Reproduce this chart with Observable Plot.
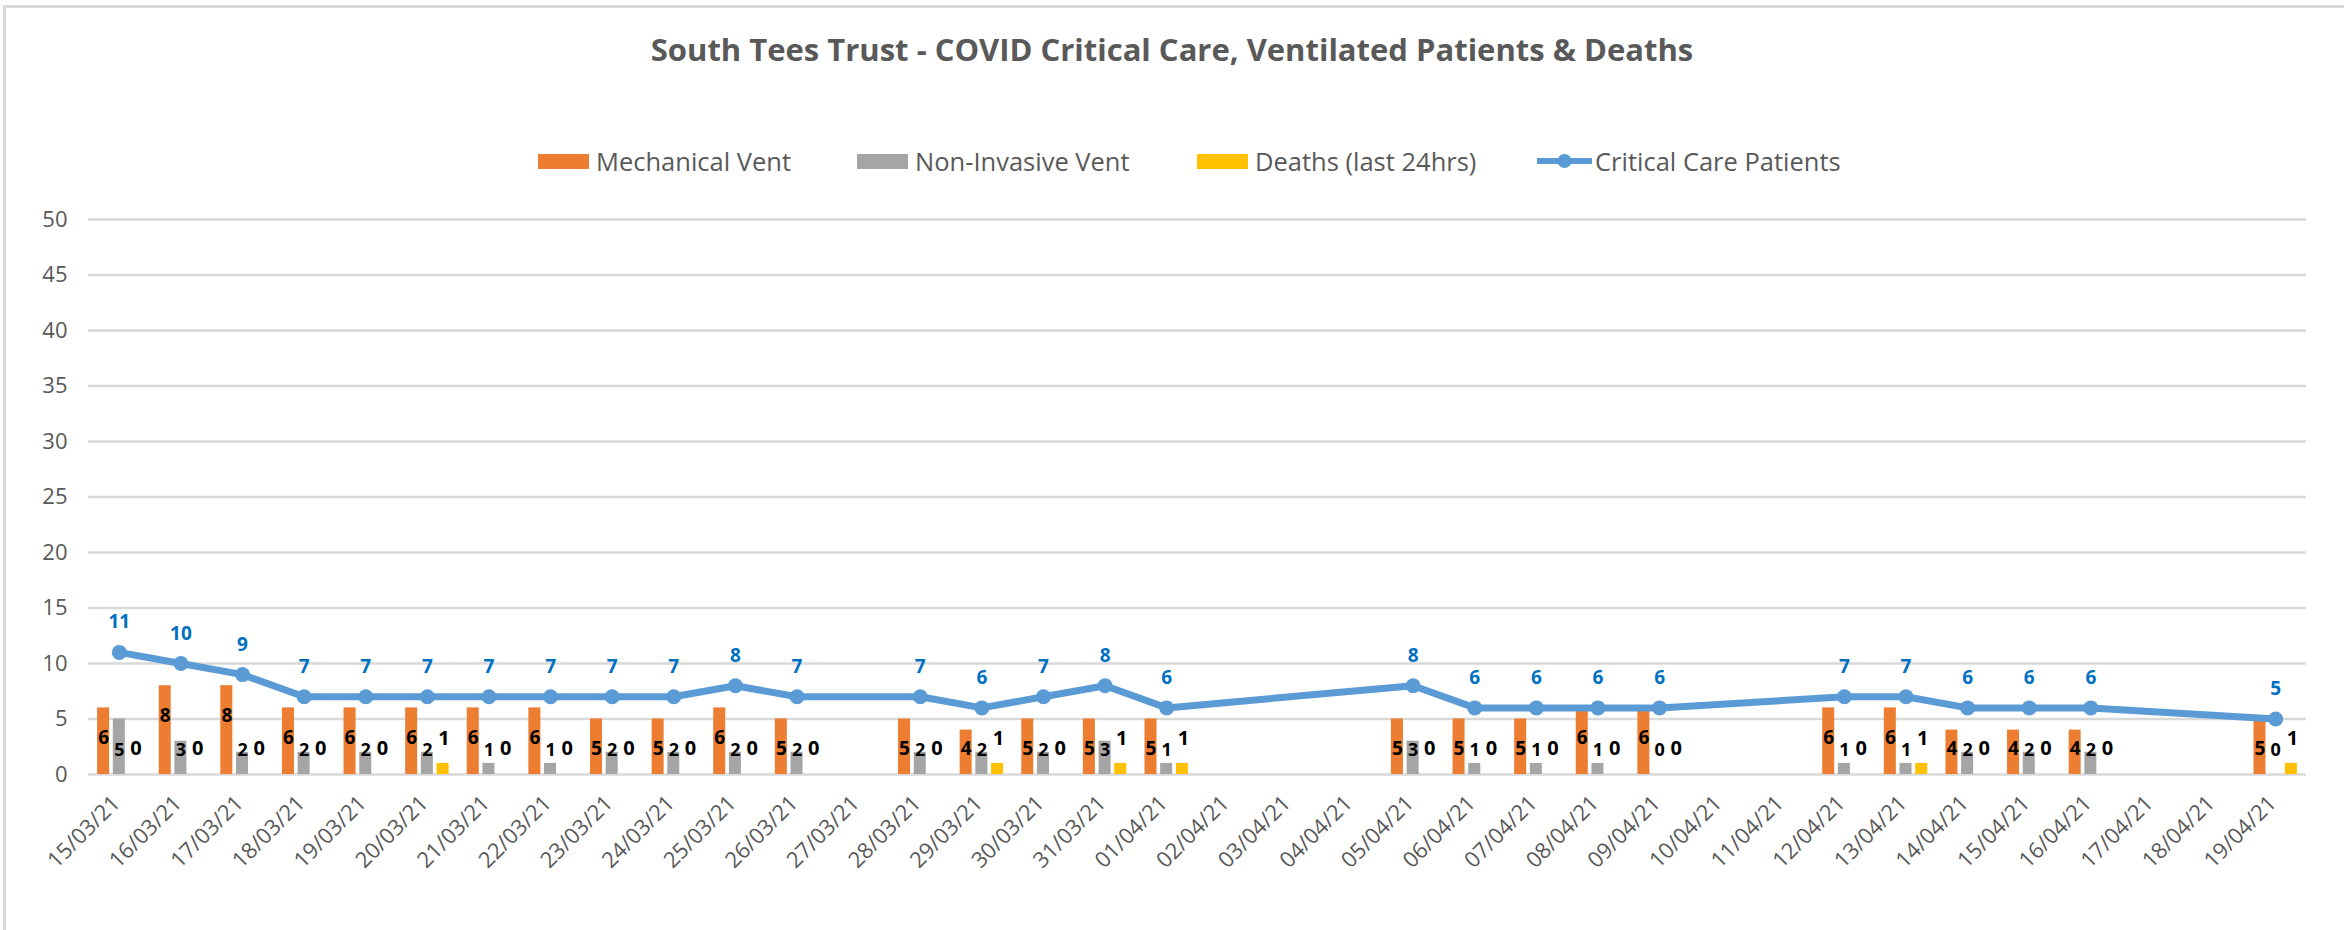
<!DOCTYPE html>
<html>
<head>
<meta charset="utf-8">
<script src="https://cdn.jsdelivr.net/npm/d3@7"></script>
<script src="https://cdn.jsdelivr.net/npm/@observablehq/plot@0.6"></script>
<style>
  body { margin: 0; background: #fff; }
  #chart { position: relative; width: 2344px; height: 930px; overflow: hidden; font-family: "Open Sans", sans-serif; background: #fff; }
  #frame { position: absolute; z-index: 5; pointer-events: none; left: 3px; top: 5px; width: 2400px; height: 1000px; border-left: 3px solid #d9d9d9; border-top: 3px solid #d9d9d9; box-sizing: border-box; }
  #title { position: absolute; top: 34px; left: 0; width: 2344px; text-align: center; font-weight: bold; font-size: 31px; line-height: 1; color: #595959; }
  .item { position: absolute; top: 146px; height: 30px; display: flex; align-items: center; font-size: 25.5px; color: #595959; white-space: nowrap; }
  .sw { width: 51px; height: 15px; margin-right: 7px; }
  #plot { position: absolute; top: 190px; left: 0; }
</style>
</head>
<body>
<div id="chart">
  <div id="frame"></div>
  <div id="title"></div>
  <div id="legend"></div>
  <div id="plot"></div>
</div>
<script>
const title = "South Tees Trust - COVID Critical Care, Ventilated Patients & Deaths";
const dates = ["15/03/21","16/03/21","17/03/21","18/03/21","19/03/21","20/03/21","21/03/21","22/03/21","23/03/21","24/03/21","25/03/21","26/03/21","27/03/21","28/03/21","29/03/21","30/03/21","31/03/21","01/04/21","02/04/21","03/04/21","04/04/21","05/04/21","06/04/21","07/04/21","08/04/21","09/04/21","10/04/21","11/04/21","12/04/21","13/04/21","14/04/21","15/04/21","16/04/21","17/04/21","18/04/21","19/04/21"];
const mechanical = [6,8,8,6,6,6,6,6,5,5,6,5,null,5,4,5,5,5,null,null,null,5,5,5,6,6,null,null,6,6,4,4,4,null,null,5];
const nonInvasive = [5,3,2,2,2,2,1,1,2,2,2,2,null,2,2,2,3,1,null,null,null,3,1,1,1,0,null,null,1,1,2,2,2,null,null,0];
const deaths = [0,0,0,0,0,1,0,0,0,0,0,0,null,0,1,0,1,1,null,null,null,0,0,0,0,0,null,null,0,1,0,0,0,null,null,1];
const critical = [11,10,9,7,7,7,7,7,7,7,8,7,null,7,6,7,8,6,null,null,null,8,6,6,6,6,null,null,7,7,6,6,6,null,null,5];
const yTicks = [0,5,10,15,20,25,30,35,40,45,50];

const seriesNames = ["Mechanical Vent","Non-Invasive Vent","Deaths (last 24hrs)","Critical Care Patients"];
const colors = ["#ED7D31","#A5A5A5","#FFC000","#5B9BD5"];

document.getElementById("title").textContent = title;

const legendX = [538, 857, 1197, 1537];
const legend = document.getElementById("legend");
seriesNames.forEach((name, i) => {
  const it = document.createElement("div");
  it.className = "item";
  it.style.left = legendX[i] + "px";
  if (i < 3) {
    it.innerHTML = `<span class="sw" style="background:${colors[i]}"></span><span>${name}</span>`;
  } else {
    it.innerHTML = `<svg width="55" height="16" style="margin-right:3px"><line x1="0" x2="55" y1="8" y2="8" stroke="${colors[3]}" stroke-width="6"/><circle cx="27.5" cy="8" r="7" fill="${colors[3]}"/></svg><span>${name}</span>`;
  }
  legend.appendChild(it);
});

const table = dates.map((d, i) => ({date: d, mech: mechanical[i], niv: nonInvasive[i], deaths: deaths[i], cc: critical[i]}));
const present = table.filter(d => d.cc != null);

const inset = 24.8, off = 15.7;

const chart = Plot.plot({
  width: 2344,
  height: 740,
  marginLeft: 88,
  marginRight: 38,
  marginTop: 29,
  marginBottom: 156,
  style: {fontFamily: "Open Sans, sans-serif", fontSize: "22px", color: "#595959", background: "transparent", overflow: "visible"},
  x: {domain: dates, padding: 0, round: false, axis: null},
  y: {domain: [0, 50], ticks: yTicks, label: null, tickSize: 0, tickPadding: 21},
  marks: [
    Plot.ruleY(yTicks, {stroke: "#d9d9d9", strokeWidth: 2.5}),
    Plot.barY(present, {x: "date", y: "mech", fill: colors[0], insetLeft: inset, insetRight: inset, dx: -off}),
    Plot.barY(present, {x: "date", y: "niv", fill: colors[1], insetLeft: inset, insetRight: inset}),
    Plot.barY(present, {x: "date", y: "deaths", fill: colors[2], insetLeft: inset, insetRight: inset, dx: off}),
    Plot.line(present, {x: "date", y: "cc", stroke: colors[3], strokeWidth: 7, strokeLinejoin: "round"}),
    Plot.dot(present, {x: "date", y: "cc", r: 7.5, fill: colors[3], stroke: "none"}),
    Plot.text(present, {x: "date", y: d => Math.max(2.3, d.mech - 2.7), text: d => String(d.mech), dx: -off, fill: "black", fontWeight: "bold", fontSize: 19}),
    Plot.text(present, {x: "date", y: d => Math.max(2.2, d.niv - 2.8), text: d => String(d.niv), fill: "black", fontWeight: "bold", fontSize: 18}),
    Plot.text(present, {x: "date", y: d => Math.max(2.3, d.deaths + 2.2), text: d => String(d.deaths), dx: off + 1, fill: "black", fontWeight: "bold", fontSize: 20}),
    Plot.text(present, {x: "date", y: "cc", text: d => String(d.cc), dy: -30, fill: "#0070C0", fontWeight: "bold", fontSize: 19}),
    Plot.text(dates, {x: d => d, frameAnchor: "bottom", text: d => d, rotate: -45, textAnchor: "end", dx: 2, dy: 30, fill: "#595959", fontSize: 22})
  ]
});
document.getElementById("plot").appendChild(chart);
</script>
</body>
</html>
